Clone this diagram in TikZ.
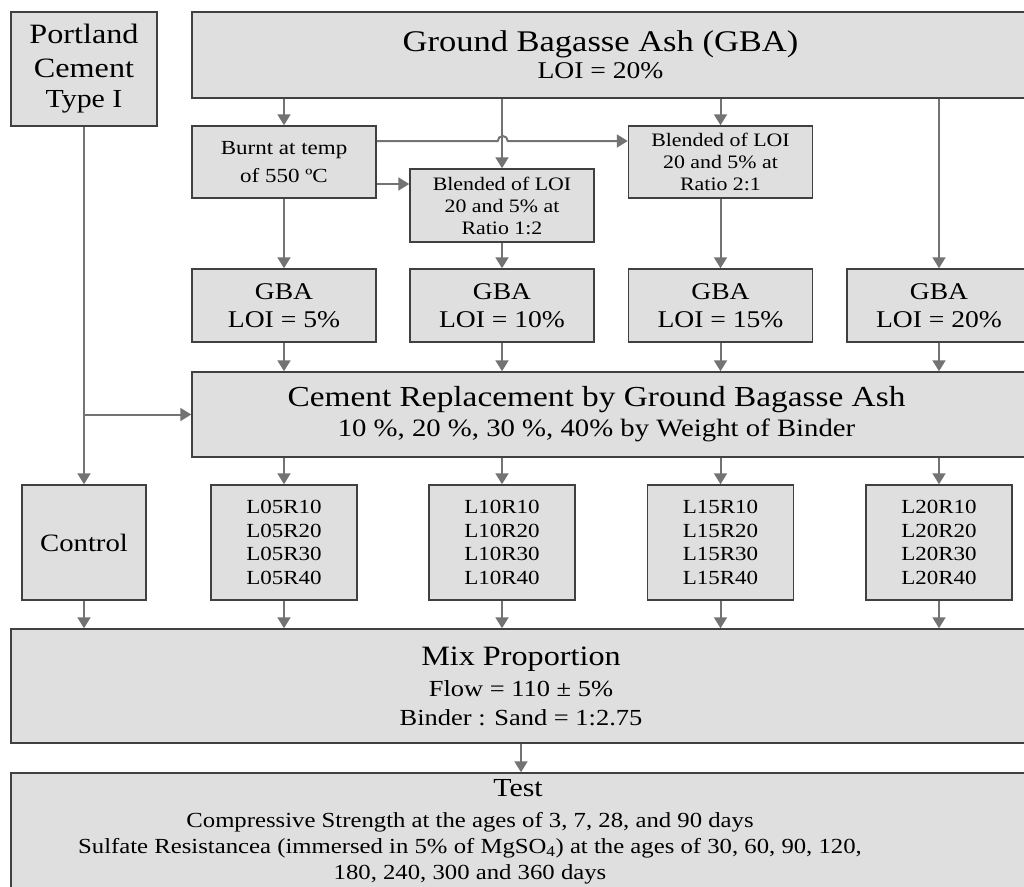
\documentclass[tikz,border=0pt]{standalone}
\usepackage{fontspec}
\setmainfont{Liberation Serif}[FakeStretch=1.15]
\usetikzlibrary{arrows.meta}

\begin{document}
\begin{tikzpicture}[x=1pt,y=-1pt,line cap=butt,
  box/.style={draw=black!75,fill=gray!25,line width=1.5pt,align=center,inner sep=0pt},
  arr/.style={draw=black!55,line width=2pt,-{Triangle[length=11pt,width=13pt]}},
  big/.style={font=\fontsize{28}{34}\selectfont},
  mid/.style={font=\fontsize{24}{28}\selectfont},
  small/.style={font=\fontsize{19}{22}\selectfont}]
\useasboundingbox (0,0) rectangle (1024,886);
\clip (0,0) rectangle (1024,886);
\node[box,big,minimum width=146,minimum height=114] (port) at (84,69) {Portland\\Cement\\[-4pt]{\fontsize{26}{30}\selectfont Type I}};
\node[box,minimum width=839,minimum height=86,font=\fontsize{30}{27}\selectfont] (gba) at (611.5,55) {\hspace*{-22pt}Ground Bagasse Ash (GBA)\\\hspace*{-22pt}{\fontsize{24}{27}\selectfont LOI = 20\%}};
\node[box,minimum width=184,minimum height=72,font=\fontsize{20}{28}\selectfont] (burnt) at (284,162) {Burnt at temp\\of 550 ºC};
\node[box,small,minimum width=184,minimum height=73] (blendA) at (502,205.5) {Blended of LOI\\20 and 5\% at\\Ratio 1:2};
\node[box,small,minimum width=184,minimum height=72] (blendB) at (720.5,162) {Blended of LOI\\20 and 5\% at\\Ratio 2:1};
\node[box,mid,minimum width=184,minimum height=73] (gbaA) at (284,305.5) {GBA\\LOI = 5\%};
\node[box,mid,minimum width=184,minimum height=73] (gbaB) at (502,305.5) {GBA\\LOI = 10\%};
\node[box,mid,minimum width=184,minimum height=73] (gbaC) at (720.5,305.5) {GBA\\LOI = 15\%};
\node[box,mid,minimum width=184,minimum height=73] (gbaD) at (939,305.5) {GBA\\LOI = 20\%};
\node[box,minimum width=839,minimum height=85,font=\fontsize{29}{30}\selectfont] (repl) at (611.5,414.5) {\hspace*{-30pt}Cement Replacement by Ground Bagasse Ash\\\hspace*{-30pt}{\fontsize{25}{30}\selectfont 10 \%, 20 \%, 30 \%, 40\% by Weight of Binder}};
\node[box,minimum width=124,minimum height=115,font=\fontsize{25}{30}\selectfont] (ctrl) at (84,542.5) {Control};
\node[box,minimum width=146,minimum height=115,font=\fontsize{20}{23.5}\selectfont] (lA) at (284,542.5) {L05R10\\L05R20\\L05R30\\L05R40};
\node[box,minimum width=146,minimum height=115,font=\fontsize{20}{23.5}\selectfont] (lB) at (502,542.5) {L10R10\\L10R20\\L10R30\\L10R40};
\node[box,minimum width=146,minimum height=115,font=\fontsize{20}{23.5}\selectfont] (lC) at (720.5,542.5) {L15R10\\L15R20\\L15R30\\L15R40};
\node[box,minimum width=146,minimum height=115,font=\fontsize{20}{23.5}\selectfont] (lD) at (939,542.5) {L20R10\\L20R20\\L20R30\\L20R40};
\node[box,minimum width=1020,minimum height=114,font=\fontsize{28}{31}\selectfont] (mix) at (521,686) {Mix Proportion\\{\fontsize{23}{31}\selectfont Flow = 110 ± 5\%}\\[-2pt]{\fontsize{23}{31}\selectfont Binder : Sand = 1:2.75}};
\node[box,minimum width=1020,minimum height=127] (test) at (521,836.5) {};
\node[anchor=base,inner sep=0pt,font=\fontsize{26}{26}\selectfont] (testhead) at (518,796) {Test};
\node[align=center,inner sep=0pt,font=\fontsize{21.5}{26}\selectfont] (testbody) at (470,848) {Compressive Strength at the ages of 3, 7, 28, and 90 days\\Sulfate Resistancea (immersed in 5\% of MgSO\textsubscript{4}) at the ages of 30, 60, 90, 120,\\180, 240, 300 and 360 days};
\draw[arr] (gba.south -| burnt.north) -- (burnt.north);
\draw[arr] (gba.south -| blendA.north) -- (blendA.north);
\draw[arr] (gba.south -| blendB.north) -- (blendB.north);
\draw[arr] (gba.south -| gbaD.north) -- (gbaD.north);
\draw[arr] ([yshift=21pt]burnt.east) -- ++(121,0) arc[start angle=180,end angle=0,radius=5pt] -- ([yshift=21pt]blendB.west);
\draw[arr] ([yshift=-22pt]burnt.east) -- ([yshift=-22pt]burnt.east -| blendA.west);
\draw[arr] (burnt.south) -- (gbaA.north);
\draw[arr] (blendA.south) -- (gbaB.north);
\draw[arr] (blendB.south) -- (gbaC.north);
\draw[arr] (gbaA.south) -- (gbaA.south |- repl.north);
\draw[arr] (gbaB.south) -- (gbaB.south |- repl.north);
\draw[arr] (gbaC.south) -- (gbaC.south |- repl.north);
\draw[arr] (gbaD.south) -- (gbaD.south |- repl.north);
\draw[arr] (port.south) -- (ctrl.north);
\draw[arr] (port.south |- repl.west) -- (repl.west);
\draw[arr] (lA.north |- repl.south) -- (lA.north);
\draw[arr] (lB.north |- repl.south) -- (lB.north);
\draw[arr] (lC.north |- repl.south) -- (lC.north);
\draw[arr] (lD.north |- repl.south) -- (lD.north);
\draw[arr] (ctrl.south) -- (ctrl.south |- mix.north);
\draw[arr] (lA.south) -- (lA.south |- mix.north);
\draw[arr] (lB.south) -- (lB.south |- mix.north);
\draw[arr] (lC.south) -- (lC.south |- mix.north);
\draw[arr] (lD.south) -- (lD.south |- mix.north);
\draw[arr] (mix.south) -- (test.north);
\end{tikzpicture}
\end{document}
